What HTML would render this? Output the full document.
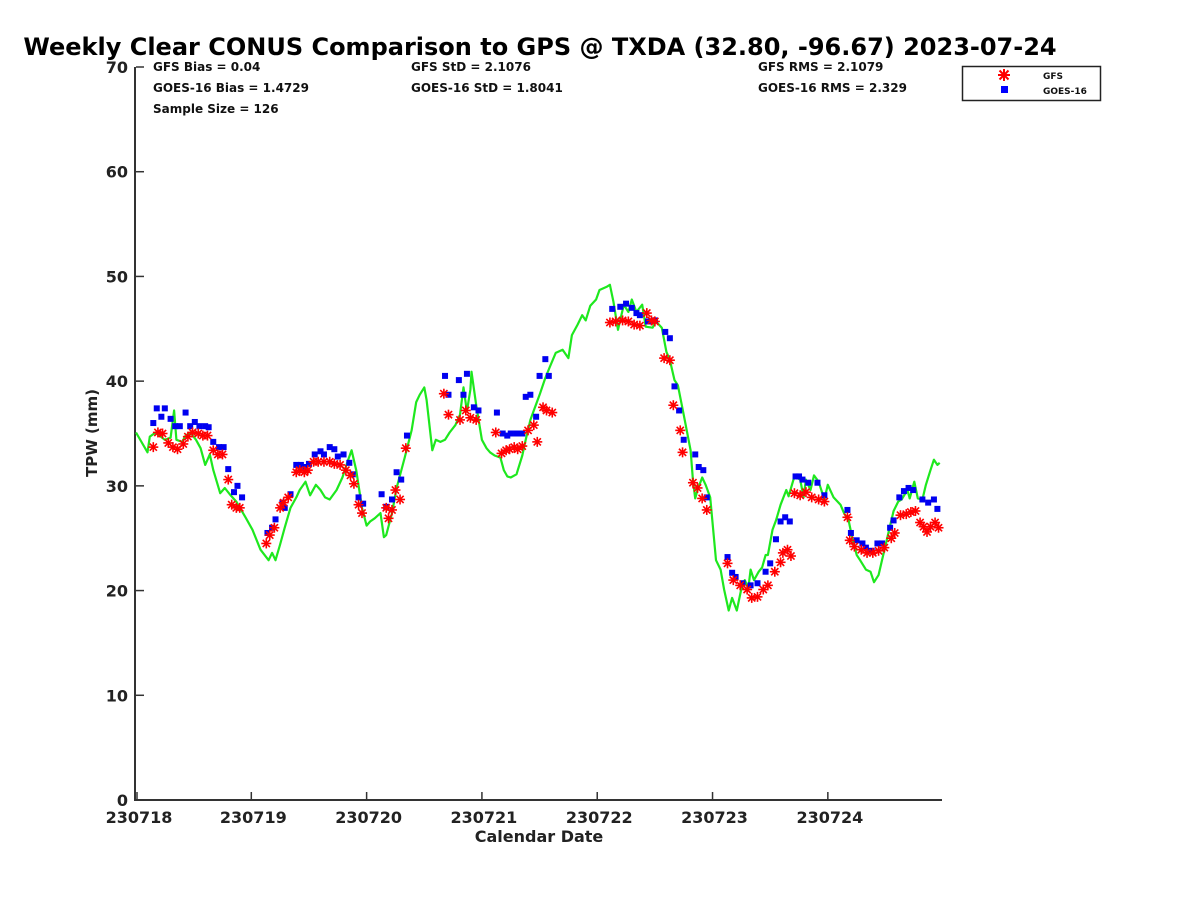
<!DOCTYPE html>
<html><head><meta charset="utf-8"><style>
html,body{margin:0;padding:0;background:#fff;}
svg{display:block;font-family:"DejaVu Sans","Liberation Sans",sans-serif;font-weight:bold;}
</style></head><body>
<svg id="chart" width="1200" height="900" viewBox="0 0 1200 900" xmlns="http://www.w3.org/2000/svg">
<text x="540" y="55" font-size="24" text-anchor="middle" fill="#000">Weekly Clear CONUS Comparison to GPS @ TXDA (32.80, -96.67) 2023-07-24</text>
<g font-size="12" fill="#111">
<text x="153" y="71">GFS Bias = 0.04</text>
<text x="153" y="92">GOES-16 Bias = 1.4729</text>
<text x="153" y="113">Sample Size = 126</text>
<text x="411" y="71">GFS StD = 2.1076</text>
<text x="411" y="92">GOES-16 StD = 1.8041</text>
<text x="758" y="71">GFS RMS = 2.1079</text>
<text x="758" y="92">GOES-16 RMS = 2.329</text>
</g>
<g id="axes"></g>
<g id="marks"></g>
<text transform="translate(97,433) rotate(-90)" font-size="15" text-anchor="middle" fill="#222">TPW (mm)</text>
<text x="539" y="842" font-size="16" text-anchor="middle" fill="#222">Calendar Date</text>
<g>
<rect x="962.5" y="66.5" width="138" height="34" fill="#fff" stroke="#222" stroke-width="1.5"/>
<g stroke="#f00" stroke-width="2">
<line x1="1004" y1="69" x2="1004" y2="81"/><line x1="998" y1="75" x2="1010" y2="75"/><line x1="999.5" y1="70.5" x2="1008.5" y2="79.5"/><line x1="999.5" y1="79.5" x2="1008.5" y2="70.5"/></g>
<rect x="1001" y="86" width="7" height="7" fill="#00f"/>
<text x="1043" y="79" font-size="9" fill="#111">GFS</text>
<text x="1043" y="94" font-size="9" fill="#111">GOES-16</text>
</g>
</svg>
<script>
const xTickLabels = ["230718","230719","230720","230721","230722","230723","230724"];
const yTicks = [0,10,20,30,40,50,60,70];
const gpsDay = [0,.10,.12,.17,.25,.30,.33,.35,.40,.43,.47,.52,.56,.60,.64,.67,.73,.77,.82,.87,.95,1.01,1.08,1.15,1.18,1.21,1.25,1.29,1.34,1.39,1.42,1.47,1.51,1.56,1.60,1.64,1.68,1.74,1.79,1.84,1.87,1.91,1.96,2.00,2.03,2.07,2.12,2.15,2.17,2.22,2.26,2.33,2.39,2.43,2.46,2.50,2.52,2.57,2.60,2.64,2.68,2.72,2.77,2.81,2.84,2.87,2.90,2.91,2.95,3.00,3.04,3.07,3.11,3.16,3.19,3.22,3.25,3.30,3.35,3.38,3.42,3.45,3.50,3.55,3.59,3.64,3.70,3.75,3.78,3.83,3.87,3.90,3.94,3.99,4.02,4.08,4.11,4.14,4.18,4.23,4.27,4.30,4.34,4.39,4.42,4.48,4.51,4.56,4.60,4.63,4.67,4.70,4.75,4.81,4.83,4.85,4.87,4.91,4.94,4.98,5.03,5.07,5.10,5.14,5.17,5.21,5.25,5.28,5.31,5.33,5.36,5.40,5.43,5.46,5.48,5.52,5.55,5.59,5.64,5.66,5.71,5.76,5.79,5.81,5.85,5.88,5.92,5.97,6.00,6.05,6.11,6.14,6.18,6.21,6.25,6.28,6.33,6.37,6.40,6.44,6.47,6.51,6.54,6.57,6.61,6.64,6.69,6.71,6.75,6.78,6.82,6.85,6.89,6.92,6.95,6.97];
const gpsVal = [35.1,33.2,34.7,35.1,34.4,34.6,37.2,34.4,34.2,34.8,35.1,34.4,33.6,32.0,33.0,31.5,29.3,29.8,29.1,28.5,27.0,25.8,23.9,22.9,23.6,22.9,24.4,26.0,27.9,28.9,29.6,30.4,29.1,30.1,29.6,28.9,28.7,29.6,30.8,32.5,33.4,31.5,27.9,26.2,26.6,26.9,27.4,25.1,25.3,27.4,29.8,32.7,35.3,38.0,38.7,39.4,38.2,33.4,34.4,34.2,34.4,35.1,35.8,36.8,39.4,37.1,39.2,40.9,37.7,34.4,33.6,33.2,32.9,32.7,31.5,30.9,30.8,31.1,32.9,34.4,36.3,37.2,38.7,40.3,41.4,42.7,43.0,42.2,44.4,45.4,46.3,45.8,47.2,47.8,48.7,49.0,49.2,47.6,44.9,47.3,46.6,47.8,46.6,47.3,45.2,45.1,45.7,45.1,42.8,42.0,40.1,39.6,36.8,33.4,30.6,28.8,29.6,30.8,30.1,28.9,22.9,22.0,20.1,18.1,19.3,18.1,20.2,21.0,20.2,22.0,21.0,21.8,22.2,23.4,23.4,25.8,26.7,28.2,29.6,29.0,30.9,30.6,28.9,30.6,29.6,31.0,30.4,28.7,30.1,28.9,28.2,27.4,26.7,25.1,23.4,22.9,22.0,21.8,20.8,21.5,22.9,24.8,26.2,27.6,28.5,28.7,29.6,28.8,30.4,28.8,28.7,30.1,31.5,32.5,32.0,32.2];
const gfsDay = [.15,.19,.23,.28,.32,.36,.41,.45,.49,.54,.58,.62,.67,.71,.75,.80,.83,.87,.90,1.13,1.16,1.20,1.25,1.28,1.32,1.39,1.42,1.46,1.49,1.54,1.58,1.63,1.68,1.72,1.77,1.82,1.86,1.89,1.93,1.96,2.17,2.19,2.22,2.25,2.29,2.34,2.67,2.71,2.81,2.86,2.90,2.95,3.12,3.17,3.21,3.24,3.28,3.31,3.35,3.40,3.45,3.48,3.53,3.56,3.61,4.11,4.16,4.22,4.27,4.32,4.37,4.43,4.47,4.50,4.58,4.63,4.66,4.72,4.74,4.83,4.87,4.91,4.95,5.13,5.18,5.24,5.30,5.34,5.39,5.44,5.48,5.54,5.59,5.61,5.65,5.68,5.71,5.76,5.81,5.86,5.92,5.97,6.17,6.19,6.23,6.29,6.34,6.39,6.44,6.49,6.55,6.58,6.63,6.68,6.72,6.76,6.80,6.83,6.86,6.89,6.93,6.96];
const gfsVal = [33.7,35.1,35.0,34.1,33.7,33.5,34.0,34.7,35.1,35.0,34.8,34.8,33.4,33.0,33.0,30.6,28.2,27.9,27.9,24.5,25.3,26.0,27.9,28.4,28.9,31.3,31.5,31.3,31.5,32.3,32.3,32.3,32.3,32.1,32.0,31.5,31.0,30.2,28.2,27.4,27.9,26.9,27.7,29.6,28.7,33.6,38.8,36.8,36.3,37.2,36.5,36.3,35.1,33.1,33.4,33.5,33.7,33.5,33.8,35.3,35.8,34.2,37.5,37.2,37.0,45.6,45.7,45.8,45.7,45.4,45.3,46.5,45.8,45.7,42.2,42.0,37.7,35.3,33.2,30.3,29.8,28.8,27.7,22.6,21.0,20.5,20.1,19.3,19.4,20.1,20.5,21.8,22.7,23.6,23.9,23.3,29.3,29.1,29.4,28.9,28.7,28.5,27.0,24.8,24.2,23.9,23.6,23.6,23.8,24.1,25.0,25.5,27.2,27.3,27.5,27.6,26.5,26.1,25.6,26.1,26.5,26.0];
const goesDay = [.15,.18,.22,.25,.30,.34,.38,.43,.47,.51,.55,.60,.63,.67,.72,.76,.80,.85,.88,.92,1.14,1.18,1.21,1.27,1.29,1.34,1.39,1.43,1.47,1.50,1.55,1.60,1.63,1.68,1.72,1.75,1.80,1.85,1.88,1.93,1.97,2.13,2.17,2.22,2.26,2.30,2.35,2.68,2.71,2.80,2.84,2.87,2.93,2.97,3.13,3.18,3.22,3.25,3.30,3.35,3.38,3.42,3.47,3.50,3.55,3.58,4.13,4.20,4.25,4.30,4.34,4.37,4.44,4.50,4.59,4.63,4.67,4.71,4.75,4.85,4.88,4.92,4.95,5.13,5.17,5.20,5.26,5.33,5.39,5.46,5.50,5.55,5.59,5.63,5.67,5.72,5.75,5.78,5.83,5.91,5.97,6.17,6.20,6.25,6.30,6.33,6.38,6.43,6.47,6.54,6.57,6.62,6.66,6.70,6.74,6.82,6.87,6.92,6.95];
const goesVal = [36.0,37.4,36.6,37.4,36.4,35.7,35.7,37.0,35.7,36.1,35.7,35.7,35.6,34.2,33.7,33.7,31.6,29.4,30.0,28.9,25.5,26.0,26.8,28.4,27.9,29.2,32.0,32.0,31.8,32.1,33.0,33.3,33.0,33.7,33.5,32.8,33.0,32.2,31.1,28.9,28.3,29.2,28.0,28.7,31.3,30.6,34.8,40.5,38.7,40.1,38.7,40.7,37.5,37.2,37.0,35.0,34.8,35.0,35.0,35.0,38.5,38.7,36.6,40.5,42.1,40.5,46.9,47.1,47.4,47.0,46.5,46.3,45.7,45.8,44.7,44.1,39.5,37.2,34.4,33.0,31.8,31.5,28.9,23.2,21.7,21.3,20.7,20.5,20.7,21.8,22.6,24.9,26.6,27.0,26.6,30.9,30.9,30.6,30.3,30.3,29.1,27.7,25.5,24.8,24.5,24.1,23.8,24.5,24.5,26.0,26.7,28.9,29.5,29.8,29.6,28.7,28.4,28.7,27.8];

const NS = "http://www.w3.org/2000/svg";
const X0 = 136, X1 = 942, Y0 = 800, Y1 = 67;
const xScale = d => X0 + d * (X1 - X0) / 6.99;
const yScale = v => Y0 - v * (Y0 - Y1) / 70;
function mk(tag, attrs, parent) {
  const e = document.createElementNS(NS, tag);
  for (const k in attrs) e.setAttribute(k, attrs[k]);
  parent.appendChild(e);
  return e;
}
const axes = document.getElementById("axes");
const marks = document.getElementById("marks");

const yAxis = mk("line", {x1: X0 - 1, y1: Y1, x2: X0 - 1, y2: Y0 + 1, stroke: "#333", "stroke-width": 2}, axes);


const xAxis = mk("line", {x1: X0 - 2, y1: Y0, x2: X1, y2: Y0, stroke: "#333", "stroke-width": 2}, axes);



yTicks.forEach(v => {
  const y = yScale(v);
  const t = mk("line", {x1: X0, y1: y, x2: X0 + 8, y2: y, stroke: "#333", "stroke-width": 1.5}, axes);
  
  
  const l = mk("text", {x: X0 - 8, y: y + 6, "font-size": 16, "text-anchor": "end", fill: "#222"}, axes);
  l.textContent = v;
  
  
});
xTickLabels.forEach((lab, i) => {
  const x = xScale(i) + (i === 0 ? 1 : 0);
  const t = mk("line", {x1: x, y1: Y0, x2: x, y2: Y0 - 8, stroke: "#333", "stroke-width": 1.5}, axes);
  
  
  const l = mk("text", {x: x + 2, y: Y0 + 23, "font-size": 16, "text-anchor": "middle", fill: "#222"}, axes);
  l.textContent = lab;
  
  
});

const pts = gpsDay.map((d, i) => xScale(d).toFixed(1) + "," + yScale(gpsVal[i]).toFixed(1)).join(" ");
const gpsLine = mk("polyline", {points: pts, fill: "none", stroke: "#1ee81e", "stroke-width": 2.2, "stroke-linejoin": "round"}, marks);



goesDay.forEach((d, i) => {
  const x = xScale(d), y = yScale(goesVal[i]);
  const r = mk("rect", {x: x - 3, y: y - 3, width: 6, height: 6, fill: "#0000f0"}, marks);
  
  
});
gfsDay.forEach((d, i) => {
  const x = xScale(d), y = yScale(gfsVal[i]);
  const g = mk("g", {stroke: "#f00", "stroke-width": 1.6}, marks);
  
  
  const s = 5, c = 3.6;
  mk("line", {x1: x, y1: y - s, x2: x, y2: y + s}, g);
  mk("line", {x1: x - s, y1: y, x2: x + s, y2: y}, g);
  mk("line", {x1: x - c, y1: y - c, x2: x + c, y2: y + c}, g);
  mk("line", {x1: x - c, y1: y + c, x2: x + c, y2: y - c}, g);
});
</script>
</body></html>
